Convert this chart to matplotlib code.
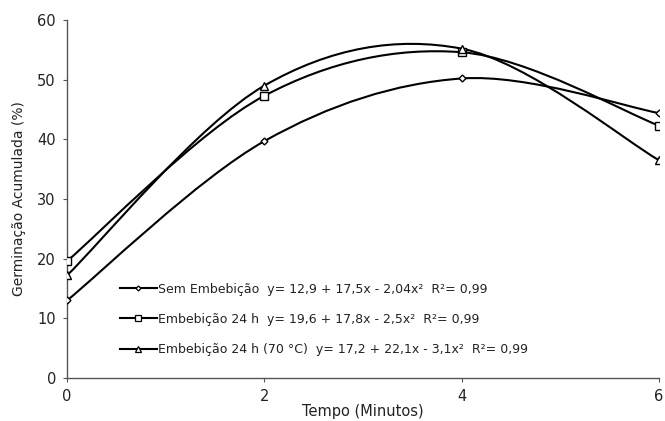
import numpy as np
import matplotlib
matplotlib.use("Agg")
import matplotlib.pyplot as plt
from matplotlib.path import Path
from matplotlib.patches import PathPatch
from matplotlib.lines import Line2D

plt.rcParams['font.family'] = ['DejaVu Sans']

tempo = [0, 2, 4, 6]
sem_embebicao = [13.0, 39.7, 50.2, 44.4]
embebicao_24h = [19.6, 47.3, 54.6, 42.3]
embebicao_24h_70 = [17.2, 49.0, 55.2, 36.5]

labels = [
    "Sem Embebição  y= 12,9 + 17,5x - 2,04x²  R²= 0,99",
    "Embebição 24 h  y= 19,6 + 17,8x - 2,5x²  R²= 0,99",
    "Embebição 24 h (70 °C)  y= 17,2 + 22,1x - 3,1x²  R²= 0,99",
]
series = [sem_embebicao, embebicao_24h, embebicao_24h_70]
markers = ['D', 's', '^']
msizes = [3.5, 5.5, 6]

fig = plt.figure(figsize=(6.65, 4.21), dpi=100)
ax = fig.add_axes([0.1008, 0.102, 0.8902, 0.8505])


def smooth_path(x, y):
    pts = np.column_stack([x, y]).astype(float)
    n = len(pts)
    verts = [pts[0]]
    codes = [Path.MOVETO]
    for i in range(n - 1):
        p0 = pts[i - 1] if i > 0 else pts[i]
        p1 = pts[i]
        p2 = pts[i + 1]
        p3 = pts[i + 2] if i + 2 < n else pts[i + 1]
        c1 = p1 + (p2 - p0) / 6.0
        c2 = p2 - (p3 - p1) / 6.0
        verts += [c1, c2, p2]
        codes += [Path.CURVE4] * 3
    return Path(verts, codes)


handles = []
for ys, m, ms, lab in zip(series, markers, msizes, labels):
    patch = PathPatch(smooth_path(tempo, ys), facecolor='none', edgecolor='black', lw=1.5, zorder=2)
    ax.add_patch(patch)
    ax.plot(tempo, ys, linestyle='none', marker=m, ms=ms, mfc='white', mec='black', mew=1.0, zorder=3)
    handles.append(Line2D([], [], color='black', lw=1.5, marker=m, ms=ms - 1, mfc='white', mec='black', mew=0.9, label=lab))

ax.set_xlim(0, 6)
ax.set_ylim(0, 60)
ax.set_xticks([0, 2, 4, 6])
ax.set_yticks(range(0, 61, 10))
for s in ['top', 'right']:
    ax.spines[s].set_visible(False)
for s in ['left', 'bottom']:
    ax.spines[s].set_color('#555555')
    ax.spines[s].set_linewidth(1.0)
ax.tick_params(axis='both', direction='out', length=3, color='#555555', labelsize=10.5, labelcolor='#222222')
ax.tick_params(axis='y', pad=5)
ax.tick_params(axis='x', pad=5)
ax.set_xlabel("Tempo (Minutos)", fontsize=10.5, labelpad=0, color='#222222')
ax.set_ylabel("Germinação Acumulada (%)", fontsize=10, labelpad=8, color='#222222')

leg = ax.legend(handles=handles, loc='lower left', bbox_to_anchor=(0.07, 0.03), frameon=False,
                fontsize=9, handlelength=3.0, handletextpad=0.1, labelspacing=1.38)
for t in leg.get_texts():
    t.set_color('#222222')

fig.savefig("out.png", dpi=100)
